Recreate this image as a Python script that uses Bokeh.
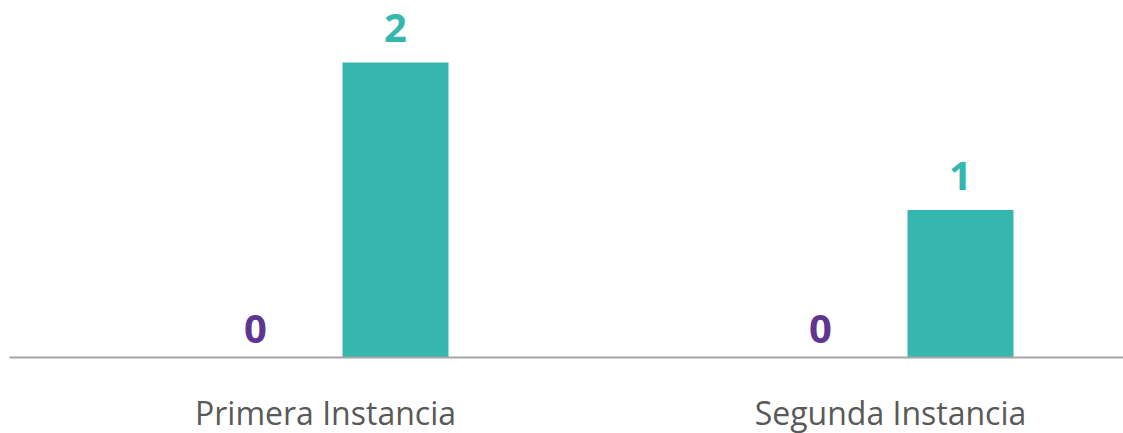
from bokeh.plotting import figure
from bokeh.models import Range1d, FixedTicker, ColumnDataSource
from bokeh.core.properties import value
from bokeh.embed import file_html
from bokeh.resources import INLINE

categories = ["Primera Instancia", "Segunda Instancia"]
series_a = [0, 0]   # purple series
series_b = [2, 1]   # teal series

PURPLE = "#5f3590"
TEAL = "#35b7af"
GRAY_AXIS = "#a6a6a6"
LABEL_GRAY = "#595959"

x = list(range(len(categories)))
off = 0.1239
bw = 0.1876

p = figure(frame_width=1114, frame_height=357, output_backend="svg", toolbar_location=None,
           x_range=Range1d(-0.5593, 1.4124), y_range=Range1d(0, 2.4203),
           min_border_left=9, min_border_right=0, min_border_top=0, min_border_bottom=70)
p.outline_line_color = None
p.grid.visible = False
p.yaxis.visible = False
p.background_fill_color = None
p.border_fill_color = None

src_a = ColumnDataSource(dict(x=[v - off for v in x], top=series_a, lbl=[str(v) for v in series_a]))
src_b = ColumnDataSource(dict(x=[v + off for v in x], top=series_b, lbl=[str(v) for v in series_b]))

p.vbar(x="x", top="top", bottom=0, width=bw, source=src_a, fill_color=PURPLE,
       line_color="#8f7bab", line_width=1)
p.vbar(x="x", top="top", bottom=0, width=bw, source=src_b, fill_color=TEAL, line_color=None)

p.text(x="x", y="top", text="lbl", source=src_a, text_align="center", text_baseline="bottom",
       y_offset=-15, text_font=value("Open Sans"), text_font_style="bold",
       text_font_size="40px", text_color=PURPLE)
p.text(x="x", y="top", text="lbl", source=src_b, text_align="center", text_baseline="bottom",
       y_offset=-20, text_font=value("Open Sans"), text_font_style="bold",
       text_font_size="40px", text_color=TEAL)

ax = p.xaxis[0]
ax.ticker = FixedTicker(ticks=x)
ax.major_label_overrides = {i: c for i, c in enumerate(categories)}
ax.axis_line_color = GRAY_AXIS
ax.axis_line_width = 2
ax.major_tick_line_color = None
ax.minor_tick_line_color = None
ax.major_tick_out = 0
ax.major_tick_in = 0
ax.major_label_standoff = 33
ax.major_label_text_font = "Open Sans"
ax.major_label_text_font_size = "32px"
ax.major_label_text_color = LABEL_GRAY

open("out.html", "w").write(file_html(p, INLINE))
